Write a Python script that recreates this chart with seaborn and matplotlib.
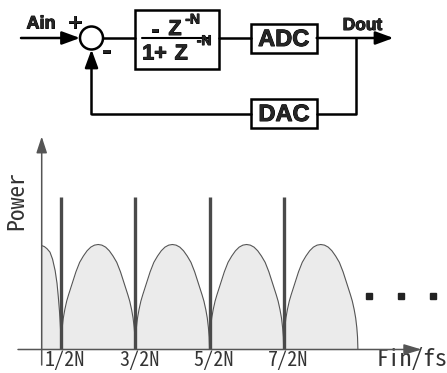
import matplotlib
matplotlib.use('Agg')
import matplotlib.pyplot as plt
import matplotlib.patheffects as pe
from matplotlib.patches import Rectangle, Circle
from matplotlib.transforms import ScaledTranslation
import pandas as pd
import seaborn as sns

# ---- spectrum data (x in units of 1/2N, y relative to noise hump peak) ----
tone_pos = [1, 3, 5, 7]
tone_labels = ['1/2N', '3/2N', '5/2N', '7/2N']
tone_level = 1.45
hump_peaks = [2, 4, 6, 8]
# one side of a noise hump: offset from the notch -> height
hump_rise_u = [0, 0.01, 0.03, 0.06, 0.1, 0.15, 0.2, 0.3, 0.4, 0.5, 0.6, 0.7, 0.8, 0.9, 1.0]
hump_rise_h = [0, 0.12, 0.21, 0.30, 0.38, 0.46, 0.52, 0.63, 0.74, 0.83, 0.89, 0.94, 0.975, 0.994, 1.0]
# truncated hump next to the Power axis
first_x = [0.475, 0.55, 0.62, 0.70, 0.77, 0.84, 0.89, 0.925, 0.955, 0.975, 0.99, 1.0]
first_h = [0.99, 0.98, 0.96, 0.927, 0.86, 0.75, 0.63, 0.50, 0.37, 0.26, 0.16, 0.0]
dots_x = [9.3, 10.16, 11.02]
dots_y = [0.51, 0.51, 0.51]

rows = []
for x, h in zip(first_x, first_h):
    rows.append(('h0', x, h))
for k, pk in enumerate(hump_peaks):
    for u, h in zip(hump_rise_u, hump_rise_h):
        rows.append((f'h{k + 1}', pk - 1 + u, h))
    for u, h in zip(hump_rise_u[::-1][1:], hump_rise_h[::-1][1:]):
        rows.append((f'h{k + 1}', pk + 1 - u, h))
df = pd.DataFrame(rows, columns=['hump', 'x', 'h'])

sns.set_style('white')
mono = ['Noto Sans Mono CJK JP', 'Noto Sans CJK JP', 'DejaVu Sans']
bold = ['Liberation Sans', 'DejaVu Sans']

W, H = 447, 373
fig = plt.figure(figsize=(W / 100, H / 100), dpi=100)

# spectrum axes: left edge = Power axis, bottom = Fin/fs axis
ax = fig.add_axes([41.7 / W, (H - 349.5) / H, (420.7 - 41.7) / W, (349.5 - 137) / H])
ax.set_xlim((41.7 - 24.0) / 37.1, (420.7 - 24.0) / 37.1)
ax.set_ylim(0, (349.5 - 137) / 105)
for s in ax.spines.values():
    s.set_visible(False)
ax.set_facecolor('none')

for name, g in df.groupby('hump'):
    ax.fill_between(g['x'], 0, g['h'], color='#ebebeb', lw=0)
sns.lineplot(data=df, x='x', y='h', units='hump', estimator=None, sort=False,
             color='#555555', lw=0.8, ax=ax)
ax.vlines(tone_pos, 0, tone_level, color='#4a4a4a', lw=2.4)
ax.plot(dots_x, dots_y, ls='none', marker='s', ms=4.3, color='#222222', clip_on=False)

ax.set_yticks([])
ax.set_xticks(tone_pos, tone_labels)
ax.tick_params(axis='x', length=0, pad=0.5, labelsize=14.5, labelcolor='#333333')
for lbl in ax.get_xticklabels():
    lbl.set_family(mono)
    lbl.set_transform(lbl.get_transform() + ScaledTranslation(4 / 100, 0, fig.dpi_scale_trans))

ax.set_xlabel('Fin/fs', fontsize=17, color='#333333', family=mono, va='center')
ax.xaxis.set_label_coords((411.7 - 41.7) / 379, (349.5 - 360) / 212.5)
ax.set_ylabel('Power', fontsize=17, color='#333333', family=mono, va='center')
ax.yaxis.set_label_coords((17 - 41.7) / 379, (349.5 - 200) / 212.5)

# ---- overlay in pixel coordinates: block diagram and axis arrows ----
ov = fig.add_axes([0, 0, 1, 1])
ov.set_xlim(0, W)
ov.set_ylim(H, 0)
ov.axis('off')
ov.patch.set_visible(False)

grey = '#555555'
ov.annotate('', xy=(41.7, 136.5), xytext=(41.7, 365),
            arrowprops=dict(arrowstyle='-|>,head_length=0.55,head_width=0.18', lw=1.1,
                            color=grey, mutation_scale=18, shrinkA=0, shrinkB=0))
ov.annotate('', xy=(421.7, 349.5), xytext=(18, 349.5),
            arrowprops=dict(arrowstyle='-|>,head_length=0.6,head_width=0.18', lw=1.1,
                            color=grey, mutation_scale=18, shrinkA=0, shrinkB=0))

lw = 1.8
k = 'black'
arrow = dict(arrowstyle='-|>,head_length=0.6,head_width=0.22', lw=lw, color=k,
             mutation_scale=18, shrinkA=0, shrinkB=0)

y0 = 38
ov.annotate('', xy=(80, y0), xytext=(21, y0), arrowprops=arrow)
ov.add_patch(Circle((91.5, y0), 11.5, fc='white', ec=k, lw=lw))
ov.plot([103, 135.3], [y0, y0], color=k, lw=lw)
ov.add_patch(Rectangle((135.3, 9.7), 84, 59.3, fc='white', ec=k, lw=lw))
ov.plot([219.3, 250.7], [y0, y0], color=k, lw=lw)
ov.add_patch(Rectangle((250.7, 24.3), 66, 29, fc='white', ec=k, lw=lw))
ov.annotate('', xy=(393.5, y0), xytext=(316.7, y0), arrowprops=arrow)
ov.plot([356, 356, 317.3], [y0, 113.5, 113.5], color=k, lw=lw)
ov.add_patch(Rectangle((250.7, 99), 66.6, 29.3, fc='white', ec=k, lw=lw))
ov.plot([250.7, 91.5], [113.5, 113.5], color=k, lw=lw)
ov.annotate('', xy=(91.5, 49.5), xytext=(91.5, 114.3), arrowprops=arrow)

# heavy block-diagram lettering
heavy = dict(family=bold, weight='bold', ha='center', va='center',
             path_effects=[pe.withStroke(linewidth=0.7, foreground='black')])
ov.text(41, 24, 'Ain', fontsize=13, **heavy)
ov.text(75, 24, '+', fontsize=16, **heavy)
ov.text(106.5, 51, '-', fontsize=18, **heavy)
ov.text(362.5, 25.5, 'Dout', fontsize=12.5, **heavy)
ov.text(283.7, 39.5, 'ADC', fontsize=17, **heavy)
ov.text(284, 114.5, 'DAC', fontsize=17, **heavy)

# transfer function -Z^-N / (1 + Z^-N)
ov.text(155.3, 30, '-', fontsize=18, **heavy)
ov.text(175, 29.5, 'Z', fontsize=15.5, **heavy)
ov.text(192.5, 19.5, '-N', fontsize=10, **heavy)
ov.plot([142, 210.3], [38, 38], color=k, lw=1.5)
ov.text(154.5, 54, '1+', fontsize=15.5, **heavy)
ov.text(181.2, 54, 'Z', fontsize=15.5, **heavy)
ov.text(204, 41, '-N', fontsize=10, **heavy)

fig.savefig('out.png', dpi=100)
